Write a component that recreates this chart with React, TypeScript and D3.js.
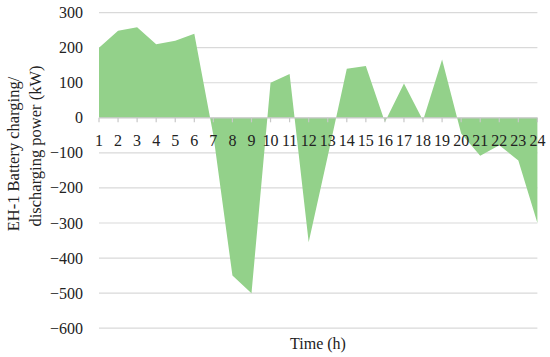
import React from "react";
import * as d3 from "d3";

// hourly battery power for EH-1 (kW)
const hours = d3.range(1, 25);
const power = [
  200, 248, 258, 210, 220, 240, -50, -450, -500, 100, 125, -355,
  -110, 140, 148, -12, 98, -8, 166, -45, -108, -78, -122, -300,
];
const yTicks = [300, 200, 100, 0, -100, -200, -300, -400, -500, -600];

const W = 550;
const H = 357;
const FONT = "'Liberation Serif', 'DejaVu Serif', serif";

const App = () => {
  const x = d3.scaleLinear().domain([1, 24]).range([99, 537.4]);
  const y = d3.scaleLinear().domain([-600, 300]).range([328.2, 12.6]);

  const area = d3
    .area<number>()
    .x((_, i) => x(hours[i]))
    .y0(y(0))
    .y1((d) => y(d));

  const [x0, x1] = x.range();

  return (
    <svg
      width={W}
      height={H}
      style={{ position: "absolute", left: 0, top: 0, background: "#fff" }}
      fontFamily={FONT}
    >
      {/* gridlines */}
      {yTicks
        .filter((t) => t !== 0)
        .map((t) => (
          <line
            key={t}
            x1={x0}
            x2={x1}
            y1={y(t)}
            y2={y(t)}
            stroke="#d9d9d9"
            strokeWidth={1.2}
          />
        ))}

      {/* area */}
      <path d={area(power) || ""} fill="#93d18a" />

      {/* zero axis + ticks */}
      <line x1={x0} x2={x1} y1={y(0)} y2={y(0)} stroke="#c8c8c8" strokeWidth={1.3} />
      {hours.map((h) => (
        <line
          key={h}
          x1={x(h)}
          x2={x(h)}
          y1={y(0)}
          y2={y(0) + 4.5}
          stroke="#c8c8c8"
          strokeWidth={1.2}
        />
      ))}

      {/* y tick labels */}
      {yTicks.map((t) => (
        <text
          key={t}
          x={83}
          y={y(t) + 5.5}
          textAnchor="end"
          fontSize={16}
          fill="#222"
        >
          {t < 0 ? `\u2212${Math.abs(t)}` : t}
        </text>
      ))}

      {/* category labels */}
      {hours.map((h) => (
        <text
          key={h}
          x={x(h)}
          y={y(0) + 28}
          textAnchor="middle"
          fontSize={16}
          fill="#222"
        >
          {h}
        </text>
      ))}

      {/* axis titles */}
      <text
        transform="translate(19,154) rotate(-90)"
        textAnchor="middle"
        fontSize={16.5}
        fill="#222"
      >
        EH-1 Battery charging/
      </text>
      <text
        transform="translate(41,146) rotate(-90)"
        textAnchor="middle"
        fontSize={16.5}
        fill="#222"
      >
        discharging power (kW)
      </text>
      <text x={318} y={349} textAnchor="middle" fontSize={16} fill="#222">
        Time (h)
      </text>
    </svg>
  );
};

export default App;
